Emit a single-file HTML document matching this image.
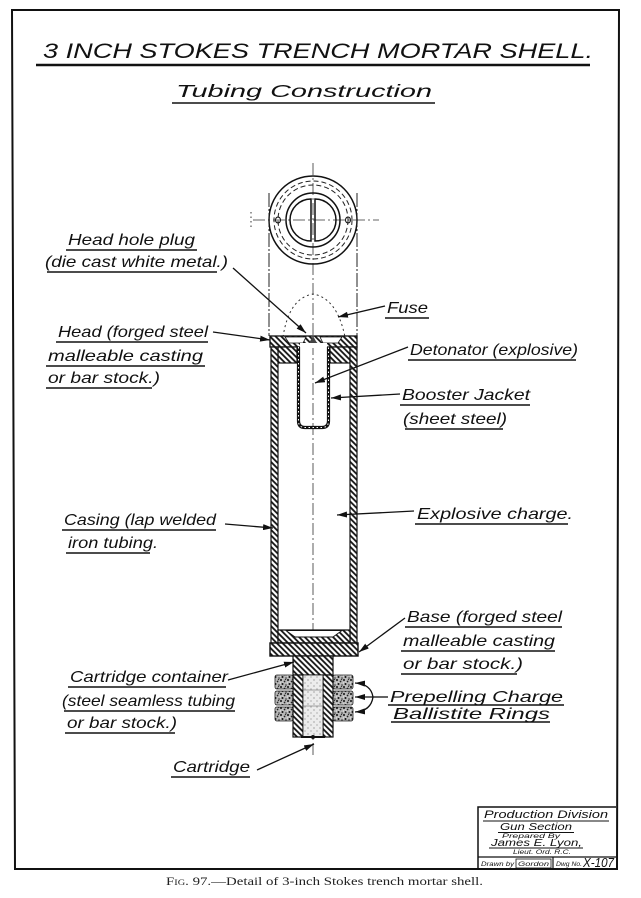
<!DOCTYPE html>
<html><head><meta charset="utf-8"><style>
html,body{margin:0;padding:0;background:#fff}
svg{display:block}
.t{font-family:"Liberation Sans",sans-serif;font-style:italic;font-size:16px;fill:#111}
.s{font-family:"Liberation Sans",sans-serif;font-style:italic;fill:#111}
.ul{stroke:#111;stroke-width:1.4}
.ld{stroke:#111;stroke-width:1.3;fill:none;marker-end:url(#ar)}
</style></head><body>
<svg width="641" height="898" viewBox="0 0 641 898" xmlns="http://www.w3.org/2000/svg">
<defs>
<pattern id="h" width="4" height="4" patternUnits="userSpaceOnUse" patternTransform="rotate(-45)">
<rect width="4" height="4" fill="#fff"/><line x1="1" y1="0" x2="1" y2="4" stroke="#111" stroke-width="1.8"/></pattern>
<pattern id="st" width="7" height="7" patternUnits="userSpaceOnUse">
<rect width="7" height="7" fill="#b8b8b8"/>
<circle cx="1" cy="1" r="1" fill="#111"/><circle cx="4.5" cy="2.5" r="0.9" fill="#222"/>
<circle cx="2.5" cy="5" r="1" fill="#111"/><circle cx="6" cy="6" r="0.8" fill="#333"/>
<circle cx="5.5" cy="0.5" r="0.7" fill="#333"/><circle cx="3" cy="3" r="0.5" fill="#fff"/>
<circle cx="0.5" cy="4" r="0.5" fill="#fff"/></pattern>
<pattern id="lt" width="6" height="6" patternUnits="userSpaceOnUse">
<rect width="6" height="6" fill="#ececec"/><circle cx="2" cy="2" r="0.6" fill="#777"/><circle cx="5" cy="5" r="0.6" fill="#888"/></pattern>
<marker id="ar" viewBox="0 0 10 6" refX="10" refY="3" markerWidth="10" markerHeight="6" markerUnits="userSpaceOnUse" orient="auto">
<path d="M0,0 L10,3 L0,6 Z" fill="#111"/></marker>
</defs>
<rect width="641" height="898" fill="#fff"/>

<!-- border -->
<path d="M12,10 L619,10 L617,869 L15,869 Z" fill="none" stroke="#111" stroke-width="2"/>

<!-- title -->
<text x="43" y="58" class="s" font-size="21.5" textLength="550" lengthAdjust="spacingAndGlyphs">3 INCH STOKES TRENCH MORTAR SHELL.</text>
<line x1="36" y1="65" x2="590" y2="65" stroke="#111" stroke-width="2.6"/>
<text x="176" y="97" class="s" font-size="17.5" textLength="256" lengthAdjust="spacingAndGlyphs">Tubing Construction</text>
<line x1="172" y1="103" x2="435" y2="103" stroke="#111" stroke-width="1.4"/>

<!-- centerlines -->
<line x1="313" y1="163" x2="313" y2="758" stroke="#333" stroke-width="0.8" stroke-dasharray="12 3 2 3"/>
<line x1="253" y1="220" x2="379" y2="220" stroke="#333" stroke-width="0.8" stroke-dasharray="12 3 2 3"/>
<line x1="251" y1="212" x2="251" y2="230" stroke="#333" stroke-width="1" stroke-dasharray="1.5 3"/>

<!-- top view circle -->
<circle cx="313" cy="220" r="44" fill="none" stroke="#111" stroke-width="1.5"/>
<circle cx="313" cy="220" r="39" fill="none" stroke="#222" stroke-width="1" stroke-dasharray="5 3"/>
<circle cx="313" cy="220" r="35" fill="none" stroke="#222" stroke-width="1" stroke-dasharray="5 3"/>
<circle cx="313" cy="220" r="27" fill="none" stroke="#111" stroke-width="1.5"/>
<path d="M311,199 A21,21 0 0 0 311,241 Z" fill="none" stroke="#111" stroke-width="1.5"/>
<path d="M315,199 A21,21 0 0 1 315,241 Z" fill="none" stroke="#111" stroke-width="1.5"/>
<ellipse cx="278" cy="220" rx="2.5" ry="3" fill="none" stroke="#111" stroke-width="1"/>
<ellipse cx="348" cy="220" rx="2.5" ry="3" fill="none" stroke="#111" stroke-width="1"/>

<!-- phantom fuse outline -->
<line x1="269" y1="193" x2="269" y2="336" stroke="#222" stroke-width="1" stroke-dasharray="14 2 2 2"/>
<line x1="357" y1="193" x2="357" y2="336" stroke="#222" stroke-width="1" stroke-dasharray="14 2 2 2"/>
<path d="M283,337 Q289,298 313,294 Q337,298 345,337" fill="none" stroke="#333" stroke-width="1" stroke-dasharray="2 3"/>

<!-- head -->
<rect x="270" y="336" width="87" height="11" fill="url(#h)" stroke="#111" stroke-width="1.3"/>
<rect x="278" y="347" width="19" height="16" fill="url(#h)" stroke="#111" stroke-width="1.2"/>
<rect x="330" y="347" width="20" height="16" fill="url(#h)" stroke="#111" stroke-width="1.2"/>
<path d="M285,337 L306,337 L303,343 L289,343 Z" fill="#fff" stroke="#111" stroke-width="0.8"/>
<path d="M320,337 L342,337 L338,343 L323,343 Z" fill="#fff" stroke="#111" stroke-width="0.8"/>
<rect x="300" y="343" width="27" height="5" fill="#fff"/>
<path d="M309,343 L313,336 L317,343 Z" fill="#444"/>

<!-- casing walls -->
<rect x="271" y="347" width="7" height="296" fill="url(#h)" stroke="#111" stroke-width="1.2"/>
<rect x="350" y="347" width="7" height="296" fill="url(#h)" stroke="#111" stroke-width="1.2"/>

<!-- booster jacket -->
<path d="M298.5,347 L298.5,421 Q298.5,427.5 305,427.5 L322,427.5 Q328.5,427.5 328.5,421 L328.5,347" fill="none" stroke="#111" stroke-width="3.2"/>
<path d="M298.5,347 L298.5,421 Q298.5,427.5 305,427.5 L322,427.5 Q328.5,427.5 328.5,421 L328.5,347" fill="none" stroke="#fff" stroke-width="1" stroke-dasharray="1.5 2.5"/>

<!-- base -->
<path d="M278,630 L350,630 L350,643 L278,643 Z" fill="url(#h)" stroke="#111" stroke-width="1.2"/>
<path d="M286,630.5 L342,630.5 L333,637 L295,637 Z" fill="#fff" stroke="#111" stroke-width="0.9"/>
<rect x="270" y="643" width="88" height="13" fill="url(#h)" stroke="#111" stroke-width="1.4"/>

<!-- propelling rings -->
<rect x="275" y="675" width="18" height="14" rx="2" fill="url(#st)" stroke="#222" stroke-width="0.8"/>
<rect x="275" y="691" width="18" height="14" rx="2" fill="url(#st)" stroke="#222" stroke-width="0.8"/>
<rect x="275" y="707" width="18" height="14" rx="2" fill="url(#st)" stroke="#222" stroke-width="0.8"/>
<rect x="333" y="675" width="20" height="14" rx="2" fill="url(#st)" stroke="#222" stroke-width="0.8"/>
<rect x="333" y="691" width="20" height="14" rx="2" fill="url(#st)" stroke="#222" stroke-width="0.8"/>
<rect x="333" y="707" width="20" height="14" rx="2" fill="url(#st)" stroke="#222" stroke-width="0.8"/>

<!-- cartridge container -->
<rect x="293" y="656" width="40" height="19" fill="url(#h)" stroke="#111" stroke-width="1.2"/>
<rect x="293" y="675" width="10" height="62" fill="url(#h)" stroke="#111" stroke-width="1.2"/>
<rect x="323" y="675" width="10" height="62" fill="url(#h)" stroke="#111" stroke-width="1.2"/>
<rect x="303" y="675" width="20" height="62" fill="url(#lt)" stroke="#111" stroke-width="0.8"/>
<line x1="303" y1="690" x2="323" y2="690" stroke="#555" stroke-width="0.6"/>
<line x1="303" y1="706" x2="323" y2="706" stroke="#555" stroke-width="0.6"/>
<line x1="301" y1="737" x2="325" y2="737" stroke="#111" stroke-width="2"/>
<circle cx="313" cy="737" r="2" fill="#111"/>

<!-- leaders -->
<line class="ld" x1="233" y1="268" x2="306" y2="333"/>
<line class="ld" x1="385" y1="306" x2="338" y2="317"/>
<line class="ld" x1="213" y1="332" x2="270" y2="340"/>
<line class="ld" x1="408" y1="347" x2="315" y2="383"/>
<line class="ld" x1="400" y1="394" x2="331" y2="398"/>
<line class="ld" x1="225" y1="524" x2="273" y2="528"/>
<line class="ld" x1="414" y1="511" x2="337" y2="515"/>
<line class="ld" x1="405" y1="618" x2="359" y2="652"/>
<line class="ld" x1="228" y1="680" x2="294" y2="662"/>
<line class="ld" x1="257" y1="770" x2="314" y2="744"/>
<line x1="388" y1="697" x2="373" y2="697" stroke="#111" stroke-width="1.3"/>
<path class="ld" d="M373,697 Q371,684 355,683"/>
<path class="ld" d="M373,697 Q371,711 355,712"/>
<line class="ld" x1="373" y1="697" x2="355" y2="697"/>

<!-- labels -->
<text class="t" x="68" y="245" font-size="17" textLength="127" lengthAdjust="spacingAndGlyphs">Head hole plug</text>
<line class="ul" x1="66" y1="250" x2="197" y2="250"/>
<text class="t" x="45" y="267" font-size="17" textLength="183" lengthAdjust="spacingAndGlyphs">(die cast white metal.)</text>
<line class="ul" x1="47" y1="272" x2="217" y2="272"/>

<text class="t" x="387" y="313" font-size="17" textLength="41" lengthAdjust="spacingAndGlyphs">Fuse</text>
<line class="ul" x1="385" y1="318" x2="429" y2="318"/>

<text class="t" x="58" y="337" font-size="17" textLength="150" lengthAdjust="spacingAndGlyphs">Head (forged steel</text>
<line class="ul" x1="56" y1="342" x2="208" y2="342"/>
<text class="t" x="48" y="361" font-size="17" textLength="155" lengthAdjust="spacingAndGlyphs">malleable casting</text>
<line class="ul" x1="46" y1="366" x2="205" y2="366"/>
<text class="t" x="48" y="383" font-size="17" textLength="112" lengthAdjust="spacingAndGlyphs">or bar stock.)</text>
<line class="ul" x1="46" y1="388" x2="152" y2="388"/>

<text class="t" x="410" y="355" font-size="17" textLength="168" lengthAdjust="spacingAndGlyphs">Detonator (explosive)</text>
<line class="ul" x1="408" y1="360" x2="576" y2="360"/>
<text class="t" x="402" y="400" font-size="17" textLength="128" lengthAdjust="spacingAndGlyphs">Booster Jacket</text>
<line class="ul" x1="400" y1="405" x2="530" y2="405"/>
<text class="t" x="403" y="424" font-size="17" textLength="104" lengthAdjust="spacingAndGlyphs">(sheet steel)</text>
<line class="ul" x1="405" y1="429" x2="503" y2="429"/>

<text class="t" x="64" y="525" font-size="17" textLength="152" lengthAdjust="spacingAndGlyphs">Casing (lap welded</text>
<line class="ul" x1="62" y1="530" x2="216" y2="530"/>
<text class="t" x="68" y="548" font-size="17" textLength="90" lengthAdjust="spacingAndGlyphs">iron tubing.</text>
<line class="ul" x1="66" y1="553" x2="150" y2="553"/>

<text class="t" x="417" y="519" font-size="17" textLength="156" lengthAdjust="spacingAndGlyphs">Explosive charge.</text>
<line class="ul" x1="415" y1="524" x2="568" y2="524"/>

<text class="t" x="407" y="622" font-size="17" textLength="155" lengthAdjust="spacingAndGlyphs">Base (forged steel</text>
<line class="ul" x1="405" y1="627" x2="562" y2="627"/>
<text class="t" x="403" y="646" font-size="17" textLength="152" lengthAdjust="spacingAndGlyphs">malleable casting</text>
<line class="ul" x1="401" y1="651" x2="555" y2="651"/>
<text class="t" x="403" y="669" font-size="17" textLength="120" lengthAdjust="spacingAndGlyphs">or bar stock.)</text>
<line class="ul" x1="401" y1="674" x2="517" y2="674"/>

<text class="t" x="390" y="702" font-size="14" textLength="173" lengthAdjust="spacingAndGlyphs">Prepelling Charge</text>
<line class="ul" x1="388" y1="705" x2="564" y2="705"/>
<text class="t" x="393" y="719" font-size="14" textLength="157" lengthAdjust="spacingAndGlyphs">Ballistite Rings</text>
<line class="ul" x1="391" y1="722" x2="550" y2="722"/>

<text class="t" x="70" y="682" font-size="16" textLength="158" lengthAdjust="spacingAndGlyphs">Cartridge container</text>
<line class="ul" x1="68" y1="687" x2="226" y2="687"/>
<text class="t" x="62" y="706" font-size="16" textLength="173" lengthAdjust="spacingAndGlyphs">(steel seamless tubing</text>
<line class="ul" x1="64" y1="711" x2="235" y2="711"/>
<text class="t" x="67" y="728" font-size="16" textLength="110" lengthAdjust="spacingAndGlyphs">or bar stock.)</text>
<line class="ul" x1="65" y1="733" x2="175" y2="733"/>

<text class="t" x="173" y="772" font-size="16" textLength="77" lengthAdjust="spacingAndGlyphs">Cartridge</text>
<line class="ul" x1="171" y1="777" x2="250" y2="777"/>

<!-- title block -->
<path d="M478,869 L478,807 L616,807" fill="none" stroke="#111" stroke-width="1.5"/>
<line x1="478" y1="857" x2="616" y2="857" stroke="#111" stroke-width="1.2"/>
<line x1="553" y1="857" x2="553" y2="869" stroke="#111" stroke-width="1.2"/>
<text class="s" x="484" y="818" font-size="11" textLength="124" lengthAdjust="spacingAndGlyphs">Production Division</text>
<line x1="483" y1="821" x2="609" y2="821" stroke="#111" stroke-width="1"/>
<text class="s" x="500" y="830" font-size="10.5" textLength="72" lengthAdjust="spacingAndGlyphs">Gun Section</text>
<line x1="498" y1="832.5" x2="574" y2="832.5" stroke="#111" stroke-width="0.9"/>
<text class="s" x="502" y="838" font-size="6.5" textLength="58" lengthAdjust="spacingAndGlyphs">Prepared By</text>
<text class="s" x="491" y="846" font-size="10" textLength="91" lengthAdjust="spacingAndGlyphs">James E. Lyon,</text>
<line x1="489" y1="848" x2="583" y2="848" stroke="#111" stroke-width="0.9"/>
<text class="s" x="513" y="854" font-size="6.5" textLength="58" lengthAdjust="spacingAndGlyphs">Lieut. Ord. R.C.</text>
<text class="s" x="481" y="866" font-size="6.5" textLength="33" lengthAdjust="spacingAndGlyphs">Drawn by</text>
<rect x="516" y="859" width="35" height="9" fill="none" stroke="#111" stroke-width="0.8"/>
<text class="s" x="518" y="866" font-size="6.5" textLength="31" lengthAdjust="spacingAndGlyphs">Gordon</text>
<text class="s" x="556" y="866" font-size="6" textLength="26" lengthAdjust="spacingAndGlyphs">Dwg No.</text>
<text class="s" x="583" y="867" font-size="13" textLength="31" lengthAdjust="spacingAndGlyphs">X-107</text>

<!-- caption -->
<text x="166" y="885" font-family="'Liberation Serif',serif" font-size="11.5" fill="#222" textLength="317" lengthAdjust="spacingAndGlyphs"><tspan style="font-variant:small-caps">Fig</tspan>. 97.—Detail of 3-inch Stokes trench mortar shell.</text>
</svg>
</body></html>
